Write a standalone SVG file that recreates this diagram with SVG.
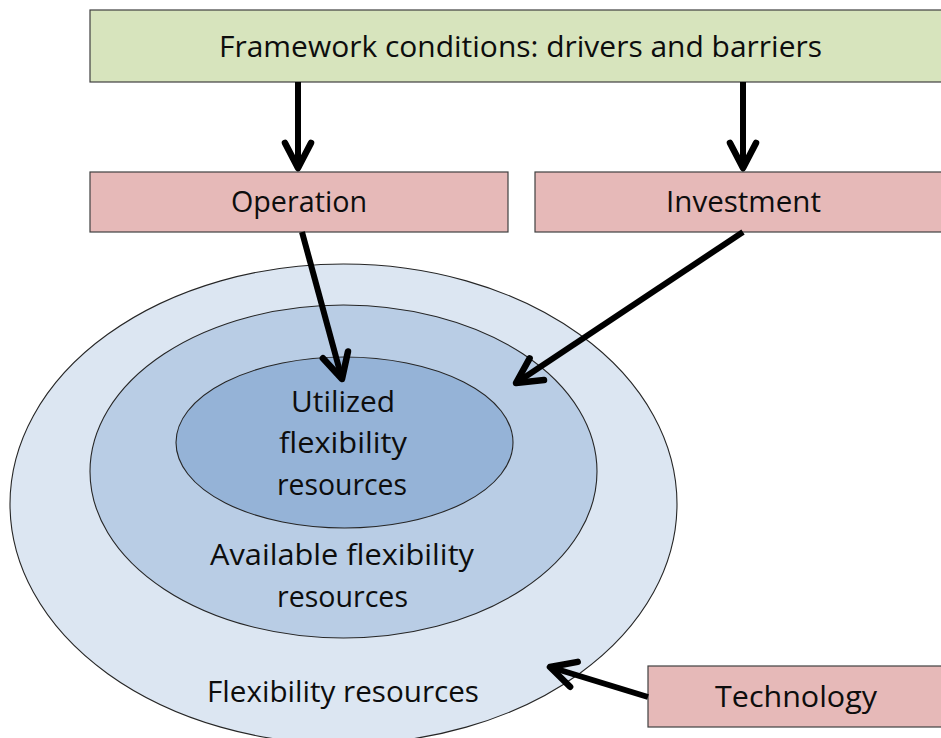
<svg xmlns="http://www.w3.org/2000/svg" width="941" height="738" viewBox="0 0 941 738">
<style>
.txt{font-family:"Open Sans","Liberation Sans",Arial,sans-serif;font-size:29px;fill:#0d0d0d;text-anchor:middle}
.green{fill:#d7e4bd;stroke:#404040;stroke-width:1.2}
.pink{fill:#e6b9b8;stroke:#404040;stroke-width:1.2}
.ell{stroke:#262626;stroke-width:1.1}
.arrow{stroke:#000;stroke-width:6;fill:none;marker-end:url(#vhead)}
</style>
<defs>
<marker id="vhead" markerUnits="userSpaceOnUse" viewBox="-30 -20 40 40" markerWidth="40" markerHeight="40" refX="0" refY="0" orient="auto" overflow="visible">
<path d="M -25 -13 L 0 0 L -25 13" fill="none" stroke="#000" stroke-width="6.5" stroke-linejoin="round" stroke-linecap="round"/>
</marker>
</defs>
<rect width="941" height="738" fill="#fff"/>

<g id="node-flexibility-resources">
<ellipse class="ell" cx="343.5" cy="504" rx="333.5" ry="240" fill="#dce6f2"/>
<text class="txt" x="343" y="702" textLength="272" lengthAdjust="spacingAndGlyphs">Flexibility resources</text>
</g>
<g id="node-available">
<ellipse class="ell" cx="343.5" cy="471.5" rx="253.5" ry="166.5" fill="#b9cde5"/>
<text class="txt" x="342" y="565" textLength="264" lengthAdjust="spacingAndGlyphs">Available flexibility</text>
<text class="txt" x="342.5" y="607" textLength="131" lengthAdjust="spacingAndGlyphs">resources</text>
</g>
<g id="node-utilized">
<ellipse class="ell" cx="344.5" cy="442.5" rx="168.5" ry="85.5" fill="#95b3d7"/>
<text class="txt" x="343" y="412" textLength="104" lengthAdjust="spacingAndGlyphs">Utilized</text>
<text class="txt" x="343" y="453" textLength="128" lengthAdjust="spacingAndGlyphs">flexibility</text>
<text class="txt" x="342" y="495" textLength="130" lengthAdjust="spacingAndGlyphs">resources</text>
</g>

<g id="node-framework">
<rect class="green" x="90" y="10" width="870" height="72"/>
<text class="txt" x="520.5" y="57" textLength="603" lengthAdjust="spacingAndGlyphs">Framework conditions: drivers and barriers</text>
</g>
<g id="node-operation">
<rect class="pink" x="90" y="172" width="418" height="60"/>
<text class="txt" x="299" y="212" textLength="136" lengthAdjust="spacingAndGlyphs">Operation</text>
</g>
<g id="node-investment">
<rect class="pink" x="535" y="172" width="425" height="60"/>
<text class="txt" x="743.5" y="212" textLength="155" lengthAdjust="spacingAndGlyphs">Investment</text>
</g>
<g id="node-technology">
<rect class="pink" x="648" y="666" width="312" height="61"/>
<text class="txt" x="796" y="707" textLength="162" lengthAdjust="spacingAndGlyphs">Technology</text>
</g>

<g id="connectors">
<line class="arrow" x1="298" y1="82" x2="298" y2="168"/>
<line class="arrow" x1="743" y1="82" x2="743" y2="168"/>
<line class="arrow" x1="302" y1="232" x2="342" y2="379"/>
<line class="arrow" x1="743" y1="232" x2="516" y2="383"/>
<line class="arrow" x1="648" y1="697" x2="550" y2="667"/>
</g>
</svg>
